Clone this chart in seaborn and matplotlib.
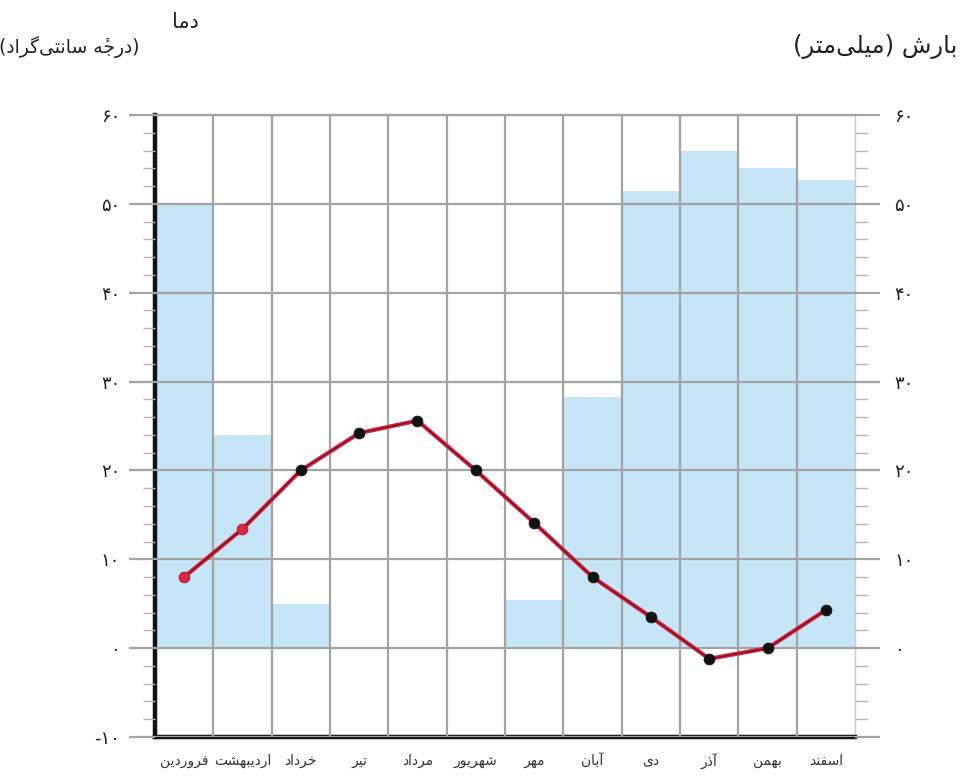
import matplotlib

matplotlib.use("Agg")
import matplotlib.pyplot as plt
import numpy as np
import pandas as pd
import seaborn as sns
from matplotlib.ticker import FixedLocator, MultipleLocator

sns.set_style("white")
plt.rcParams["font.family"] = ["DejaVu Sans", "Noto Sans"]

# data
months = ["فروردین", "اردیبهشت", "خرداد", "تیر", "مرداد", "شهریور",
          "مهر", "آبان", "دی", "آذر", "بهمن", "اسفند"]
precip_mm = [50, 24, 5, 0, 0, 0, 5.4, 28.3, 51.4, 56, 54, 52.7]
temp_c = [8, 13.4, 20, 24.2, 25.6, 20, 14.1, 8, 3.5, -1.2, 0, 4.3]
left_ticks = [-10, 0, 10, 20, 30, 40, 50, 60]
right_ticks = [-10, 0, 10, 20, 30, 40, 50, 60]
temp_title_1 = "دما"
temp_title_2 = "(درجهٔ سانتی‌گراد)"
precip_title = "بارش (میلی‌متر)"

# presentation forms: isolated, final, initial, medial
FORMS = {
    "ا": ("\uFE8D", "\uFE8E"),
    "آ": ("\uFE81", "\uFE82"),
    "ب": ("\uFE8F", "\uFE90", "\uFE91", "\uFE92"),
    "ت": ("\uFE95", "\uFE96", "\uFE97", "\uFE98"),
    "ج": ("\uFE9D", "\uFE9E", "\uFE9F", "\uFEA0"),
    "خ": ("\uFEA5", "\uFEA6", "\uFEA7", "\uFEA8"),
    "د": ("\uFEA9", "\uFEAA"),
    "ذ": ("\uFEAB", "\uFEAC"),
    "ر": ("\uFEAD", "\uFEAE"),
    "ز": ("\uFEAF", "\uFEB0"),
    "س": ("\uFEB1", "\uFEB2", "\uFEB3", "\uFEB4"),
    "ش": ("\uFEB5", "\uFEB6", "\uFEB7", "\uFEB8"),
    "ف": ("\uFED1", "\uFED2", "\uFED3", "\uFED4"),
    "ل": ("\uFEDD", "\uFEDE", "\uFEDF", "\uFEE0"),
    "م": ("\uFEE1", "\uFEE2", "\uFEE3", "\uFEE4"),
    "ن": ("\uFEE5", "\uFEE6", "\uFEE7", "\uFEE8"),
    "ه": ("\uFEE9", "\uFEEA", "\uFEEB", "\uFEEC"),
    "و": ("\uFEED", "\uFEEE"),
    "ی": ("\uFBFC", "\uFBFD", "\uFBFE", "\uFBFF"),
    "گ": ("\uFB92", "\uFB93", "\uFB94", "\uFB95"),
}
MARKS = {"\u0654"}


def shape(text):
    """Join Persian letters and put them in visual (left to right) order."""
    letters = [c for c in text if c not in MARKS]
    groups = []
    for c in text:
        if c in MARKS and groups:
            groups[-1] += c
        else:
            groups.append(c)
    out = []
    for i, g in enumerate(groups):
        c = g[0]
        if c == "\u200c":
            continue
        if c not in FORMS:
            out.append(g)
            continue
        prev = groups[i - 1][0] if i > 0 else ""
        nxt = groups[i + 1][0] if i + 1 < len(groups) else ""
        join_prev = prev in FORMS and len(FORMS[prev]) == 4
        join_next = len(FORMS[c]) == 4 and nxt in FORMS
        f = FORMS[c]
        if join_prev and join_next:
            form = f[3]
        elif join_prev:
            form = f[1]
        elif join_next:
            form = f[2]
        else:
            form = f[0]
        out.append(form + g[1:])
    visual = "".join(reversed(out))
    return visual.translate(str.maketrans("()", ")("))


def fa_num(n):
    s = str(abs(n)).translate(str.maketrans("0123456789", "۰۱۲۳۴۵۶۷۸۹"))
    return "-" + s if n < 0 else s


df = pd.DataFrame({"month": months, "precip": precip_mm, "temp": temp_c})
df["pos"] = np.arange(len(df))

grid_color = "#a3a3a3"
bar_color = "#c6e6f7"
line_color = "#d0223a"

fig = plt.figure(figsize=(9.74, 7.78), dpi=100)
ax = fig.add_axes([0.159, 0.0527, 0.719, 0.7995])

sns.barplot(data=df, x="month", y="precip", order=months, color=bar_color,
            width=1.0, linewidth=0, saturation=1, errorbar=None, ax=ax, zorder=1)

ax.set_xlim(-0.5, len(months) - 0.5)
ax.set_ylim(-10, 60)

# grid: month boundaries and every 10 units
ax.set_xticks(np.arange(len(months)), labels=[shape(m) for m in months])
ax.xaxis.set_minor_locator(FixedLocator(np.arange(0.5, len(months) - 1, 1)))
ax.grid(False)
ax.grid(True, which="minor", axis="x", color=grid_color, lw=1.6, zorder=2)
ax.set_yticks(left_ticks, labels=[fa_num(t) for t in left_ticks])
ax.yaxis.set_minor_locator(MultipleLocator(2))
ax.grid(True, which="major", axis="y", color=grid_color, lw=1.6, zorder=2)
ax.set_axisbelow(False)

sns.lineplot(data=df, x="pos", y="temp", color=line_color, lw=3.0, ax=ax, zorder=4)
sns.lineplot(data=df, x="pos", y="temp", color="#6a0c18", lw=0.7, ax=ax, zorder=4)
sns.scatterplot(data=df.iloc[2:], x="pos", y="temp", color="#111111", s=60,
                edgecolor="#111111", ax=ax, zorder=5)
sns.scatterplot(data=df.iloc[:2], x="pos", y="temp", color="#d42a44", s=60,
                edgecolor="#b01830", ax=ax, zorder=5)
ax.set_xlabel("")
ax.set_ylabel("")

for side in ["left", "bottom"]:
    ax.spines[side].set_color("#111111")
    ax.spines[side].set_linewidth(3.2)
ax.spines["top"].set_color(grid_color)
ax.spines["top"].set_linewidth(1.6)
ax.spines["right"].set_color("#c8c8c8")
ax.spines["right"].set_linewidth(1.0)

ax.tick_params(axis="x", which="both", length=0, pad=12, labelsize=10, labelcolor="#333333")
ax.tick_params(axis="y", which="major", direction="out", length=19, width=1.6,
               color=grid_color, pad=6, labelsize=13, labelcolor="#222222")
ax.tick_params(axis="y", which="minor", direction="out", length=9, width=1.0,
               color="#b5b5b5")

# precipitation axis on the right, same scale (no label at -10)
ax2 = ax.twinx()
ax2.set_ylim(-10, 60)
ax2.set_yticks(right_ticks, labels=[fa_num(t) if t >= 0 else "" for t in right_ticks])
ax2.yaxis.set_minor_locator(MultipleLocator(2))
ax2.tick_params(axis="y", which="major", direction="out", length=18, width=1.6,
                color=grid_color, pad=10, labelsize=13, labelcolor="#222222")
ax2.tick_params(axis="y", which="minor", direction="out", length=9, width=1.0,
                color="#b5b5b5")
ax2.grid(False)
for s in ax2.spines.values():
    s.set_visible(False)

fig.text(0.19, 0.972, shape(temp_title_1), ha="center", va="center", fontsize=15, color="#222222")
fig.text(0.071, 0.94, shape(temp_title_2), ha="center", va="center", fontsize=13.5, color="#222222")
fig.text(0.898, 0.94, shape(precip_title), ha="center", va="center", fontsize=17.5, color="#222222")

fig.savefig("out.png", dpi=100)
